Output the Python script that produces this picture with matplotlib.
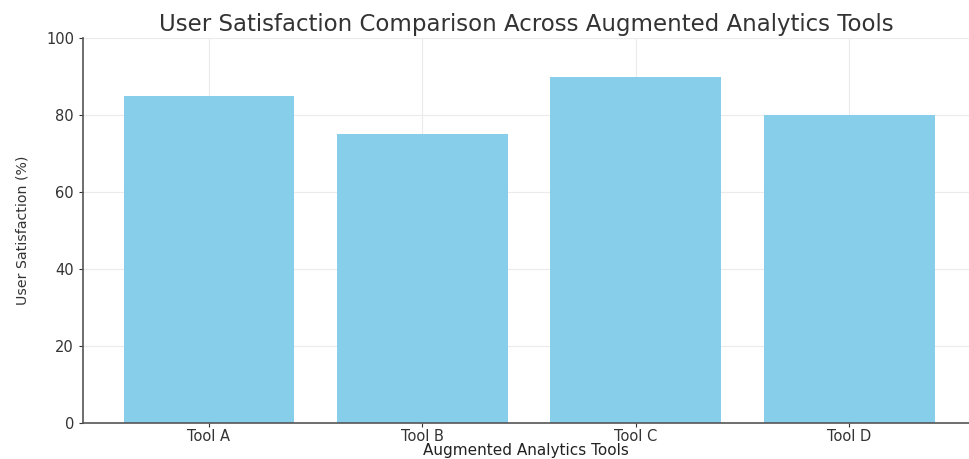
import matplotlib
matplotlib.use("Agg")
import matplotlib.pyplot as plt

tools = ["Tool A", "Tool B", "Tool C", "Tool D"]
satisfaction = [85, 75, 90, 80]
y_ticks = [0, 20, 40, 60, 80, 100]

plt.rcParams['font.family'] = ['DejaVu Sans']

fig = plt.figure(figsize=(9.69, 4.59), dpi=100)
ax = fig.add_axes([0.0857, 0.0784, 0.914, 0.8386])

ax.bar(tools, satisfaction, width=0.8, color="skyblue", zorder=2)

ax.set_xlim(-0.59, 3.56)
ax.set_ylim(0, 100)
ax.set_yticks(y_ticks)
ax.grid(True, color="#ebebeb", linewidth=0.8, zorder=0)

for side in ["top", "right"]:
    ax.spines[side].set_visible(False)
for side in ["left", "bottom"]:
    ax.spines[side].set_color("#555555")
    ax.spines[side].set_linewidth(1.2)

ax.tick_params(axis="both", colors="#333333", labelsize=10.5, length=3)
ax.tick_params(axis="x", pad=1.5)

ax.set_title("User Satisfaction Comparison Across Augmented Analytics Tools",
             fontsize=16.5, color="#333333", pad=5)
ax.set_xlabel("Augmented Analytics Tools", fontsize=11, color="#222222", labelpad=-1)
ax.set_ylabel("User Satisfaction (%)", fontsize=10.2, color="#333333", labelpad=12)

fig.savefig("out.png", dpi=100)
